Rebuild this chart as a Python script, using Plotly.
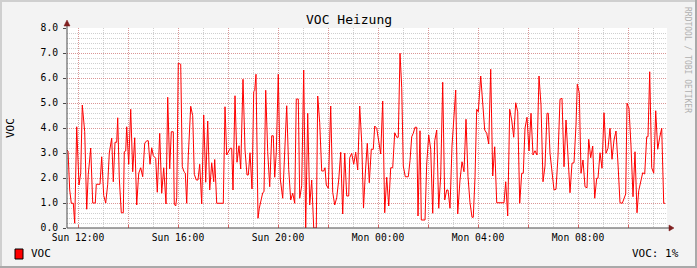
import datetime as dt
import plotly.graph_objects as go

# ---- data (minutes after Sun 12:00, VOC value) ----
minutes = [
    -26.4, -24.0, -19.9, -16.1, -11.3, -7.9, -3.1, 2.4, 6.5, 10.3, 16.1, 20.9, 24.7, 30.5, 35.3, 41.5, 43.9,
    52.8, 56.9, 61.7, 66.5, 71.3, 75.1, 80.9, 84.7, 88.8, 92.9, 95.3, 99.1, 103.9, 108.7, 111.1, 114.5,
    116.9, 121.7, 126.5, 131.3, 136.1, 140.9, 145.7, 150.5, 155.3, 160.1, 164.9, 168.7, 172.8, 176.9,
    180.7, 186.5, 190.3, 196.1, 200.9, 205.7, 211.2, 215.3, 220.1, 223.9, 228.7, 231.1, 234.5, 236.9,
    240.7, 246.5, 250.3, 254.4, 257.5, 260.9, 264.7, 270.5, 275.3, 279.1, 283.9, 288.0, 292.1, 296.9,
    301.7, 306.5, 311.3, 316.1, 320.9, 325.7, 328.1, 330.5, 332.9, 348.7, 352.8, 356.9, 360.7, 365.5,
    368.9, 372.0, 376.8, 381.6, 386.4, 390.5, 396.0, 400.8, 405.6, 408.7, 412.8, 417.6, 421.7, 424.1,
    427.2, 432.0, 435.1, 439.2, 443.3, 446.4, 450.5, 455.3, 460.1, 464.9, 468.7, 472.1, 475.9, 480.7,
    485.5, 491.3, 496.1, 500.9, 505.7, 510.5, 515.3, 520.1, 523.9, 528.7, 532.1, 536.9, 541.7, 546.5,
    551.3, 556.1, 560.9, 565.7, 571.9, 575.3, 580.1, 584.9, 589.7, 592.8, 595.9, 600.7, 606.5, 611.3,
    616.1, 620.9, 625.7, 630.5, 635.3, 640.1, 644.9, 649.7, 652.1, 656.9, 661.7, 666.5, 671.3, 676.1,
    680.9, 685.2, 689.5, 694.3, 699.1, 703.9, 708.7, 712.1, 716.9, 721.7, 726.5, 731.3, 736.1, 740.9,
    745.7, 750.5, 755.3, 760.1, 764.9, 768.7, 772.8, 776.9, 780.7, 785.5, 792.7, 796.8, 800.9, 804.7,
    808.8, 812.9, 816.0, 820.8, 823.9, 832.8, 836.9, 841.7, 846.5, 851.3, 856.1, 860.9, 865.7, 870.5,
    875.3, 880.1, 884.9, 888.0, 892.8, 897.6, 902.4, 906.5, 911.3, 916.8, 921.6, 926.4, 931.2, 936.0,
    940.8, 945.6, 948.7, 952.8, 956.9, 960.7, 966.5, 971.3, 976.1, 980.9, 985.7, 990.5, 995.3, 1000.1,
    1004.9, 1022.4, 1026.5, 1031.3, 1036.1, 1040.9, 1045.7, 1050.5, 1055.3, 1060.1, 1064.9, 1068.7,
    1072.8, 1077.6, 1082.4, 1087.2, 1092.0, 1096.8, 1101.6, 1106.4, 1111.2, 1116.0, 1120.8, 1125.6,
    1128.7, 1132.8, 1137.6, 1142.4, 1147.2, 1152.0, 1156.8, 1161.6, 1166.4, 1171.2, 1176.0, 1180.8,
    1185.6, 1190.4, 1195.2, 1198.3, 1203.1, 1207.2, 1212.0, 1216.8, 1221.6, 1225.7, 1230.5, 1235.3,
    1240.1, 1244.9, 1248.0, 1252.8, 1257.6, 1262.4, 1267.2, 1272.0, 1276.8, 1281.6, 1286.4, 1291.2,
    1296.0, 1300.8, 1306.3, 1310.4, 1314.5, 1317.6, 1322.4, 1327.2, 1332.0, 1336.8, 1341.6, 1345.7,
    1350.5, 1355.3, 1360.1, 1364.9, 1368.0, 1372.1, 1376.9, 1381.7, 1386.5, 1391.3, 1396.1, 1400.9,
    1405.7, 1408.8,
]
voc = [
    3.12, 3.08, 1.52, 0.99, 0.99, 0.19, 4.05, 1.72, 2.19, 4.92, 3.85, 0.75, 2.15, 3.20, 1.00, 1.00, 1.75,
    1.75, 2.85, 1.30, 1.00, 1.75, 3.00, 3.60, 1.85, 3.43, 3.43, 4.41, 1.99, 0.61, 0.61, 3.05, 3.08,
    4.05, 2.55, 4.75, 2.25, 3.61, 0.92, 2.19, 2.41, 2.05, 3.39, 3.49, 3.49, 2.55, 3.21,
    2.89, 2.79, 1.43, 3.79, 1.39, 2.41, 0.96, 5.23, 2.36, 3.85, 3.85, 0.95, 0.88, 1.21,
    6.59, 6.55, 2.45, 2.25, 2.20, 0.99, 2.89, 4.87, 4.49, 2.15, 1.92, 1.92, 2.55, 0.96,
    4.52, 1.83, 4.28, 1.52, 2.61, 1.85, 2.74, 1.88, 0.99, 0.99, 4.85, 2.92, 3.05, 3.19,
    3.19, 1.52, 5.29, 2.63, 3.29, 2.36, 5.95, 3.12, 2.12, 2.12, 3.01, 1.56, 5.45, 5.50,
    6.15, 0.39, 0.79, 1.05, 1.41, 1.45, 5.51, 3.05, 1.65, 3.69, 3.69, 2.03, 3.03, 6.15,
    1.96, 1.19, 2.99, 4.89, 2.35, 1.12, 1.39, 0.99, 5.16, 5.16, 1.19, 1.69, 6.32, 0.00,
    4.59, 0.92, 1.92, 0.00, 0.00, 5.28, 4.21, 2.28, 2.28, 2.41, 1.72, 1.59, 4.88, 1.43,
    0.92, 1.21, 1.92, 3.03, 0.56, 2.99, 1.28, 1.28, 2.81, 2.99, 2.55, 3.03, 2.32, 4.88,
    3.43, 0.80, 2.16, 3.39, 1.81, 3.15, 3.15, 4.08, 3.99, 3.36, 2.96, 5.08, 0.61, 2.03,
    0.88, 2.41, 2.41, 3.81, 3.63, 3.63, 6.99, 5.63, 2.48, 2.05, 2.05, 2.69, 3.65, 3.79,
    4.03, 4.03, 0.48, 3.89, 0.32, 0.32, 2.56, 3.72, 3.15, 0.59, 3.49, 3.92, 0.79, 2.08,
    5.83, 1.12, 1.52, 1.52, 0.79, 3.28, 4.49, 5.52, 0.56, 1.92, 2.65, 2.25, 4.35, 2.05,
    1.01, 0.43, 0.43, 2.03, 4.75, 4.65, 6.08, 5.01, 3.92, 3.79, 3.36, 6.35, 2.08, 3.25,
    1.01, 1.01, 1.85, 0.48, 4.75, 4.32, 3.63, 5.01, 4.65, 0.99, 2.19, 2.19,
    3.99, 4.43, 3.08, 4.59, 2.92, 3.09, 2.92, 6.08, 4.92, 1.85, 2.48, 4.59,
    4.59, 2.99, 2.12, 1.52, 1.55, 2.88, 5.15, 5.19, 2.45, 4.32, 2.88, 1.41,
    2.59, 2.61, 4.12, 5.75, 5.41, 2.19, 2.72, 1.65, 1.61, 3.55, 2.81, 3.28,
    1.19, 1.99, 1.99, 3.01, 2.39, 4.61, 2.99, 3.19, 3.99, 2.75, 3.52, 3.88,
    2.56, 1.01, 0.99, 1.19, 1.36, 4.99, 4.79, 3.28, 1.25, 3.05, 0.61, 1.49,
    1.85, 2.21, 2.16, 3.65, 3.65, 6.25, 2.41, 2.19, 4.69, 3.15, 3.63, 3.99,
    0.99, 0.99,
]

y_ticks = [0, 1, 2, 3, 4, 5, 6, 7, 8]
y_tick_labels = ["0.0", "1.0", "2.0", "3.0", "4.0", "5.0", "6.0", "7.0", "8.0"]
x_major_hours = [0, 2, 4, 6, 8, 10, 12, 14, 16, 18, 20, 22]
x_labels = ["Sun 12:00", "", "Sun 16:00", "", "Sun 20:00", "", "Mon 00:00", "",
            "Mon 04:00", "", "Mon 08:00", ""]
x_minor_hours = list(range(0, 24))

base = dt.datetime(2024, 1, 7, 12, 0)  # a Sunday
times = [base + dt.timedelta(minutes=m) for m in minutes]
x_start = base + dt.timedelta(minutes=-26.4)
x_end = base + dt.timedelta(minutes=1413.6)

W, H = 697, 268
L, R, T, B = 67, 30, 28, 40
PW, PH = W - L - R, H - T - B


def px(x):
    return (x - L) / PW


def py(y):
    return (H - B - y) / PH


FONT = "DejaVu Sans Mono"
MINOR = "rgba(175,175,175,0.6)"
MAJOR = "rgba(225,110,110,0.6)"
DOTS = "1px,1px"
AXIS = "#4a4a4a"
ARROW = "#7f1f1f"

fig = go.Figure()
fig.add_trace(go.Scatter(
    x=times, y=voc, mode="lines",
    line=dict(color="#ff0000", width=1), showlegend=False, hoverinfo="skip",
))

fig.update_layout(
    width=W, height=H, autosize=False,
    margin=dict(l=L, r=R, t=T, b=B, pad=0),
    paper_bgcolor="#f3f3f3", plot_bgcolor="#ffffff",
    font=dict(family=FONT, size=10, color="#000000"),
    showlegend=False,
    xaxis=dict(
        type="date", range=[x_start, x_end], showline=False, zeroline=False,
        tickmode="array",
        tickvals=[base + dt.timedelta(hours=h) for h in x_major_hours],
        ticktext=x_labels,
        ticks="inside", ticklen=3, tickcolor="#e06060", tickwidth=1,
        showgrid=True, gridcolor=MAJOR, griddash=DOTS, gridwidth=1,
        tickfont=dict(family=FONT, size=9.7, color="#000000"),
        ticklabelstandoff=2,
        minor=dict(tickmode="array",
                   tickvals=[base + dt.timedelta(hours=h) for h in x_minor_hours],
                   showgrid=True, gridcolor=MINOR, griddash=DOTS, gridwidth=1,
                   ticks=""),
        fixedrange=True,
    ),
    yaxis=dict(
        range=[0, 8], showline=False, zeroline=False,
        tickmode="array", tickvals=y_ticks, ticktext=y_tick_labels,
        ticks="outside", ticklen=3, tickcolor=AXIS,
        showgrid=True, gridcolor=MAJOR, griddash=DOTS, gridwidth=1,
        tickfont=dict(family=FONT, size=9.7, color="#000000"),
        ticklabelstandoff=3,
        minor=dict(dtick=0.2, tick0=0, showgrid=True, gridcolor=MINOR,
                   griddash=DOTS, gridwidth=1, ticks=""),
        fixedrange=True,
    ),
)

shapes = []
# frame around the whole image
shapes.append(dict(type="line", xref="paper", yref="paper", x0=px(0), x1=px(W), y0=py(1), y1=py(1),
                   line=dict(color="#cfcfcf", width=2)))
shapes.append(dict(type="line", xref="paper", yref="paper", x0=px(1), x1=px(1), y0=py(0), y1=py(H),
                   line=dict(color="#cfcfcf", width=2)))
shapes.append(dict(type="line", xref="paper", yref="paper", x0=px(0), x1=px(W), y0=py(H - 1), y1=py(H - 1),
                   line=dict(color="#a9a9a9", width=2)))
shapes.append(dict(type="line", xref="paper", yref="paper", x0=px(W - 1), x1=px(W - 1), y0=py(0), y1=py(H),
                   line=dict(color="#a9a9a9", width=2)))
# axes
shapes.append(dict(type="line", xref="paper", yref="paper", x0=0, x1=px(670), y0=0, y1=0,
                   line=dict(color=AXIS, width=1)))
shapes.append(dict(type="line", xref="paper", yref="paper", x0=0, x1=0, y0=0, y1=py(24),
                   line=dict(color=AXIS, width=1)))
# arrows
shapes.append(dict(type="path", xref="paper", yref="paper",
                   path=f"M {px(669)} {py(225)} L {px(674)} {py(228)} L {px(669)} {py(231)} Z",
                   fillcolor=ARROW, line=dict(color=ARROW, width=0.5)))
shapes.append(dict(type="path", xref="paper", yref="paper",
                   path=f"M {px(64)} {py(26)} L {px(67)} {py(20)} L {px(70)} {py(26)} Z",
                   fillcolor=ARROW, line=dict(color=ARROW, width=0.5)))
# legend square
shapes.append(dict(type="rect", xref="paper", yref="paper",
                   x0=px(15), x1=px(23), y0=py(259), y1=py(249),
                   fillcolor="#ff0000", line=dict(color="#000000", width=1)))
fig.update_layout(shapes=shapes)

ann = [
    dict(text="VOC Heizung", x=px(349), y=py(19), xref="paper", yref="paper",
         showarrow=False, font=dict(family=FONT, size=13, color="#000000"),
         xanchor="center", yanchor="middle"),
    dict(text="VOC", x=px(10), y=py(128), xref="paper", yref="paper", textangle=-90,
         showarrow=False, font=dict(family=FONT, size=11, color="#000000"),
         xanchor="center", yanchor="middle"),
    dict(text="VOC", x=px(29), y=py(254), xref="paper", yref="paper",
         showarrow=False, font=dict(family=FONT, size=11, color="#000000"),
         xanchor="left", yanchor="middle"),
    dict(text="VOC: 1%", x=px(681), y=py(254), xref="paper", yref="paper",
         showarrow=False, font=dict(family=FONT, size=11, color="#000000"),
         xanchor="right", yanchor="middle"),
    dict(text="RRDTOOL / TOBI OETIKER", x=px(688), y=py(60), xref="paper", yref="paper",
         textangle=90, showarrow=False, font=dict(family=FONT, size=8, color="#b0b0b0"),
         xanchor="center", yanchor="middle"),
]
fig.update_layout(annotations=ann)

fig.write_html("out.html")
